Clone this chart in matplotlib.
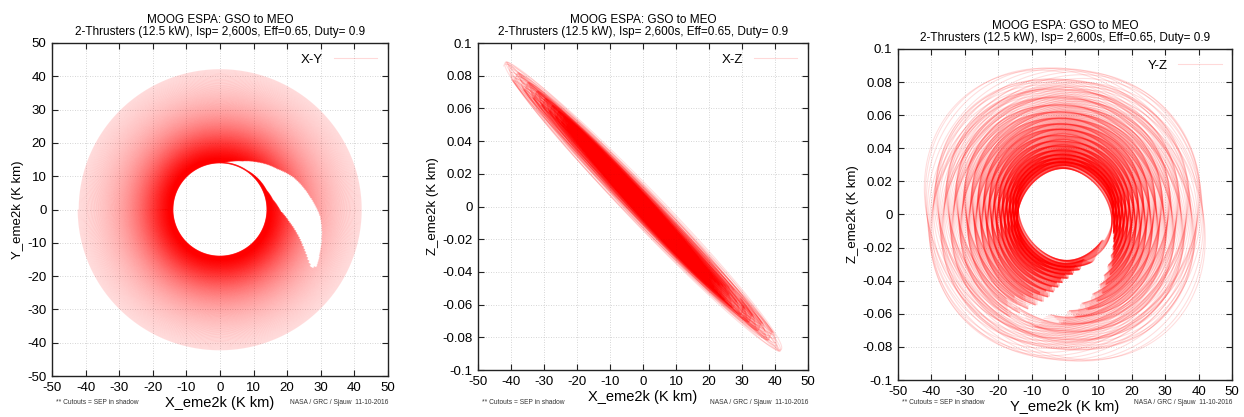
import numpy as np
import matplotlib

matplotlib.use("Agg")
import matplotlib.pyplot as plt
from matplotlib.collections import LineCollection
from matplotlib.lines import Line2D
from matplotlib.ticker import FuncFormatter, MultipleLocator

plt.rcParams["font.family"] = ["Liberation Sans", "DejaVu Sans"]
plt.rcParams["axes.unicode_minus"] = False

# spiral (K km)
R_START = 42.2
R_END = 14.0
N_REVS = 560
PTS_PER_REV = 300

# shadow cutout seen in X-Y: angle window (deg, ccw from +X) per orbit radius
CUT_R = [14.2, 15.0, 16.0, 18.0, 21.0, 24.0, 27.0, 30.0, 32.0, 33.5]
CUT_LO = [55, 22, 10, -2, -11, -18, -24.5, -30, -33, -32]
CUT_HI = [85, 75, 65, 52, 35, 23, 8, -5, -20, -32]

# out-of-plane tilt, Z per K km of radius (from X-Z / Y-Z views)
TILT_T = [0.0, 0.5, 1.0]
TILT_X = [0.00203, 0.00222, 0.00205]
TILT_Y = 0.00005
WOBBLE_X = 0.0001
WOBBLE_Y = 0.00032
N_WOBBLES = 16

TITLE = "MOOG ESPA: GSO to MEO\n2-Thrusters (12.5 kW), Isp= 2,600s, Eff=0.65, Duty= 0.9"
PANELS = [
    ("X-Y", "X_eme2k (K km)", "Y_eme2k (K km)", (-50, 50), 10),
    ("X-Z", "X_eme2k (K km)", "Z_eme2k (K km)", (-0.1, 0.1), 0.02),
    ("Y-Z", "Y_eme2k (K km)", "Z_eme2k (K km)", (-0.1, 0.1), 0.02),
]
AX_RECTS = [
    (0.0418, 0.0983, 0.2700, 0.7986),
    (0.3842, 0.1127, 0.2653, 0.7840),
    (0.7219, 0.0887, 0.2685, 0.7940),
]
FOOT_LEFT = "** Cutouts = SEP in shadow"
FOOT_RIGHT = "NASA / GRC / Sjauw  11-10-2016"


def build_orbit():
    th = np.linspace(0, 2 * np.pi * N_REVS, N_REVS * PTS_PER_REV + 1)
    frac = th / th[-1]
    r = 1 / np.sqrt(1 / R_START**2 + frac * (1 / R_END**2 - 1 / R_START**2))
    dt = r**1.5
    t = np.concatenate([[0], np.cumsum((dt[1:] + dt[:-1]) / 2)])
    t /= t[-1]
    ang = th + np.pi
    x = r * np.cos(ang)
    y = r * np.sin(ang)
    ph = 2 * np.pi * N_WOBBLES * t
    qx = np.interp(t, TILT_T, TILT_X) + WOBBLE_X * np.sin(ph)
    qy = TILT_Y + WOBBLE_Y * np.cos(ph)
    z = -(qx * x + qy * y)

    deg = (np.degrees(ang) + 180) % 360 - 180
    lo = np.interp(r, CUT_R, CUT_LO)
    hi = np.interp(r, CUT_R, CUT_HI)
    inside = (r >= CUT_R[0]) & (r <= CUT_R[-1])
    visible = ~(inside & (deg >= lo) & (deg <= hi))
    return x, y, z, visible


def split_runs(a, b, visible):
    n = len(a)
    brk = np.zeros(n, bool)
    brk[0] = True
    brk[1:] = visible[1:] != visible[:-1]
    brk[::PTS_PER_REV] = True
    starts = np.flatnonzero(brk)
    ends = list(starts[1:] + 1) + [n]
    pts = np.column_stack([a, b])
    return [pts[s:min(e, n)] for s, e in zip(starts, ends) if visible[s] and e - s > 1]


def tick_fmt(v, _):
    v = round(v, 6) + 0.0
    return "%g" % v


def style_axes(ax, xlabel, ylabel, ylim, ystep):
    ax.set_xlim(-50, 50)
    ax.set_ylim(*ylim)
    ax.xaxis.set_major_locator(MultipleLocator(10))
    ax.yaxis.set_major_locator(MultipleLocator(ystep))
    ax.xaxis.set_major_formatter(FuncFormatter(tick_fmt))
    ax.yaxis.set_major_formatter(FuncFormatter(tick_fmt))
    ax.tick_params(direction="in", top=True, right=True, length=4, width=0.8,
                   labelsize=9.5, pad=4, color="#222222")
    ax.grid(True, color="#c8c8c8", linestyle=(0, (1, 2)), linewidth=0.6)
    ax.set_axisbelow(True)
    for sp in ax.spines.values():
        sp.set_linewidth(1.0)
        sp.set_color("#222222")
    ax.set_xlabel(xlabel, fontsize=10.5, labelpad=2)
    ax.set_ylabel(ylabel, fontsize=9.5, labelpad=2)


def main():
    x, y, z, visible = build_orbit()
    coords = [(x, y), (x, z), (y, z)]
    fig = plt.figure(figsize=(12.44, 4.17), dpi=100)
    for (name, xlabel, ylabel, ylim, ystep), rect, (a, b) in zip(PANELS, AX_RECTS, coords):
        ax = fig.add_axes(rect)
        style_axes(ax, xlabel, ylabel, ylim, ystep)
        segs = split_runs(a, b, visible)
        lc = LineCollection(segs, colors=[(1, 0, 0, 0.13)], linewidths=0.8)
        ax.add_collection(lc)
        handle = Line2D([], [], color=(1, 0, 0, 0.15), linewidth=0.8)
        ax.legend([handle], [name], loc="upper right", frameon=False, markerfirst=False,
                  handlelength=3.3, fontsize=9.5, borderaxespad=0.4)
        ax.set_title(TITLE, fontsize=8.5, pad=6, linespacing=1.0)
        l, bt, w, h = rect
        fig.text(l + 0.003, 0.03, FOOT_LEFT, fontsize=4.8, color="#333333")
        fig.text(l + w, 0.03, FOOT_RIGHT, fontsize=4.8, color="#333333", ha="right")
    fig.savefig("out.png", dpi=100)
    plt.close(fig)


if __name__ == "__main__":
    main()
